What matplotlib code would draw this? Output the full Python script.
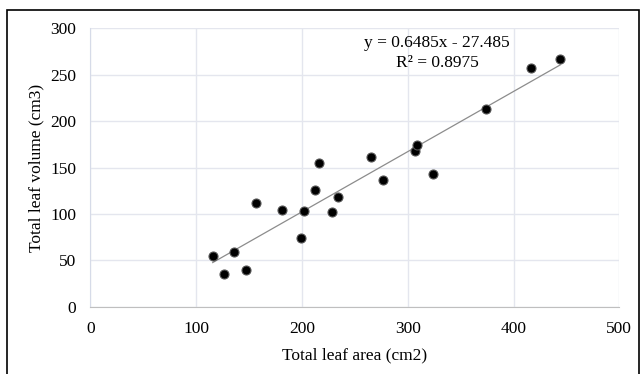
import numpy as np
import matplotlib.pyplot as plt
from matplotlib.patches import Rectangle

# leaf area vs leaf volume
leaf_area = [115.7, 126.2, 135.9, 146.7, 156.8, 181.3, 199.5, 201.9, 212.7, 216.2,
             228.6, 233.7, 265.5, 276.4, 306.7, 309.0, 324.1, 373.8, 416.5, 444.1]
leaf_volume = [54.3, 35.2, 58.6, 39.2, 111.4, 103.8, 74.0, 102.8, 126.1, 155.2,
               102.0, 117.9, 161.0, 136.5, 167.8, 174.6, 143.4, 213.1, 256.9, 267.0]
slope = 0.6485
intercept = -27.485
r2 = 0.8975
xticks = [0, 100, 200, 300, 400, 500]
yticks = [0, 50, 100, 150, 200, 250, 300]

plt.rcParams['font.family'] = ['Liberation Serif', 'DejaVu Serif']

fig = plt.figure(figsize=(6.44, 3.74), dpi=100)
ax = fig.add_axes([90.3 / 644, 1 - 306.7 / 374, 529 / 644, 278.4 / 374])

# outer frame like the pasted excel chart
fig.patches.append(Rectangle((7 / 644, -0.05), 632 / 644, 1.05 - 10 / 374,
                             transform=fig.transFigure, fill=False,
                             edgecolor='black', linewidth=1.2))

xs = np.array([min(leaf_area), max(leaf_area)])
ax.plot(xs, slope * xs + intercept, color='#8c8c8c', linewidth=0.9, zorder=2)
ax.scatter(leaf_area, leaf_volume, s=42, c='black', edgecolors='#555555',
           linewidths=0.8, zorder=3)

ax.set_xlim(0, 500)
ax.set_ylim(0, 300)
ax.set_xticks(xticks)
ax.set_yticks(yticks)
ax.grid(True, color='#e4e6ee', linewidth=1)
ax.set_axisbelow(True)
ax.tick_params(length=0, labelsize=12.5)
ax.tick_params(axis='y', pad=10)
ax.tick_params(axis='x', pad=10)
for s in ['top', 'right']:
    ax.spines[s].set_visible(False)
ax.spines['left'].set_color('#d6dbe8')
ax.spines['bottom'].set_color('#bfbfbf')

ax.set_xlabel('Total leaf area (cm2)', fontsize=12.5, labelpad=8)
ax.set_ylabel('Total leaf volume (cm3)', fontsize=12.5, labelpad=4)

ax.text(327.6, 284, 'y = %.4fx - %.3f' % (slope, -intercept), ha='center',
        va='center', fontsize=12.5)
ax.text(327.6, 262.6, 'R² = %.4f' % r2, ha='center', va='center', fontsize=12.5)

fig.savefig('out.png', dpi=100)
